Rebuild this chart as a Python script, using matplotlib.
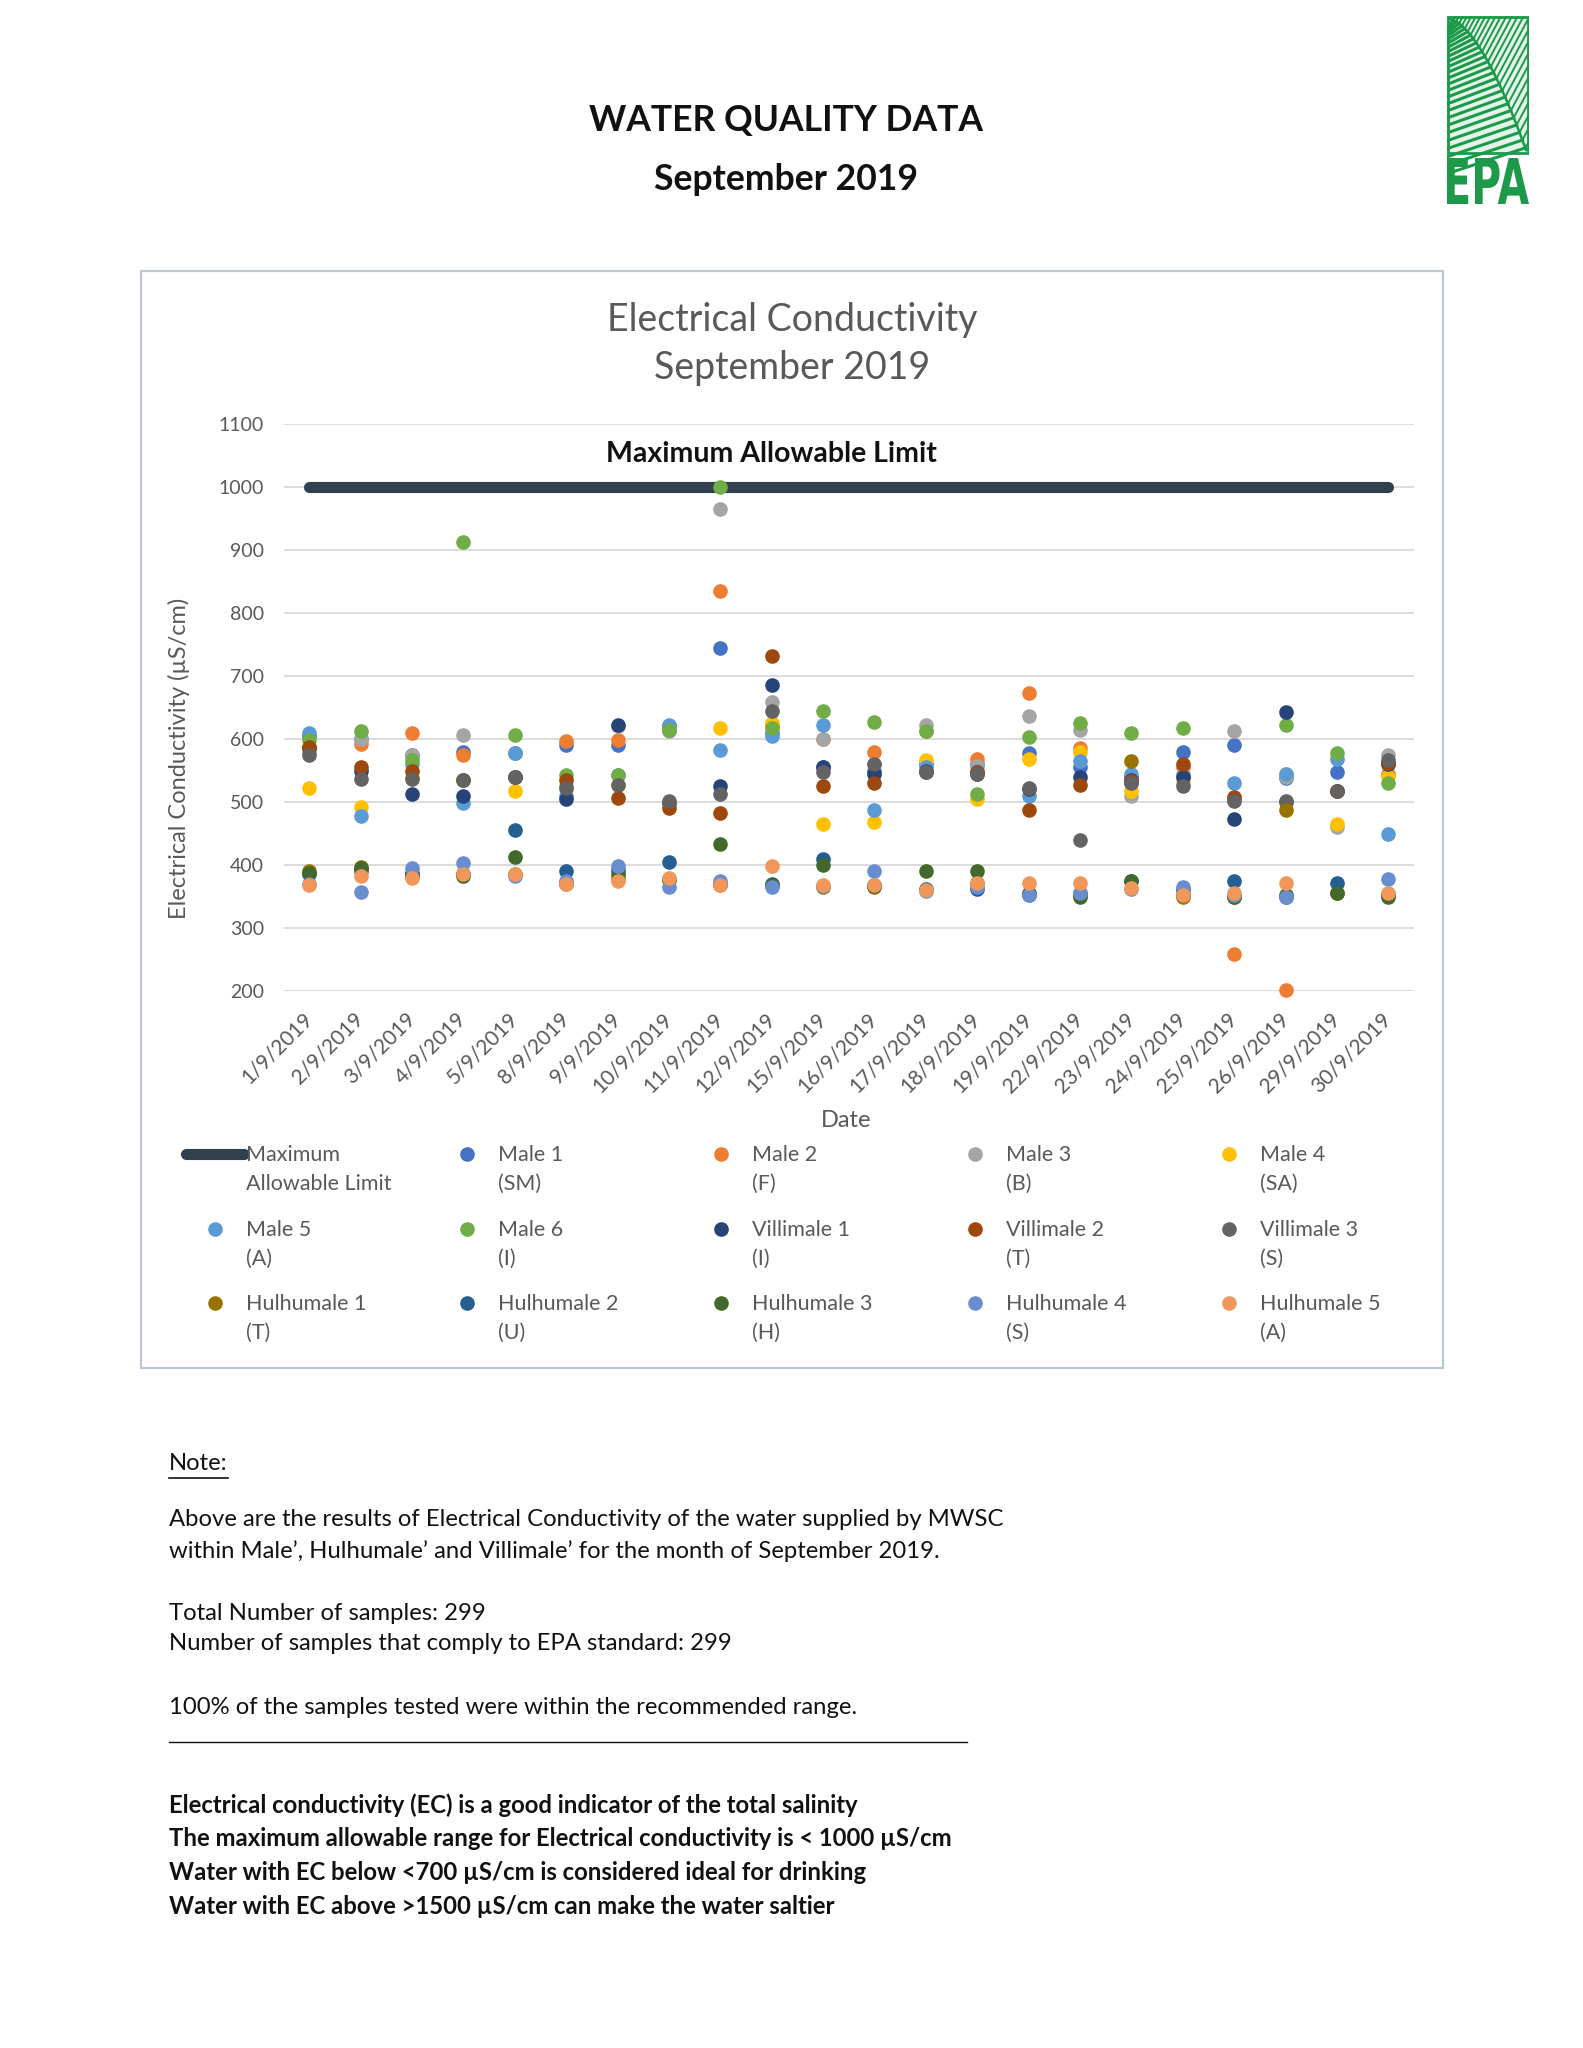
import numpy as np
import matplotlib
matplotlib.use("Agg")
from matplotlib import pyplot as plt
from matplotlib.patches import Rectangle, PathPatch
from matplotlib.textpath import TextPath
from matplotlib.font_manager import FontProperties
from matplotlib.transforms import Affine2D
from matplotlib.legend_handler import HandlerLine2D

plt.rcParams['font.family'] = ['Lato', 'DejaVu Sans']

# data
dates = ['1/9/2019', '2/9/2019', '3/9/2019', '4/9/2019', '5/9/2019', '8/9/2019',
         '9/9/2019', '10/9/2019', '11/9/2019', '12/9/2019', '15/9/2019', '16/9/2019',
         '17/9/2019', '18/9/2019', '19/9/2019', '22/9/2019', '23/9/2019', '24/9/2019',
         '25/9/2019', '26/9/2019', '29/9/2019', '30/9/2019']
nan = np.nan
limit = [1000] * 22
male1 = [605, 600, 575, 580, 578, 590, 590, 620, 745, 610, 555, 550, 560, 560, 577, 555, 540, 580, 590, 538, 547, 560]
male2 = [588, 592, 610, 575, 540, 597, 598, 615, 835, 620, 600, 580, 612, 568, 673, 585, 530, 555, 258, 202, 518, 545]
male3 = [580, 600, 575, 607, 578, 525, 620, 612, 965, 658, 600, 560, 622, 557, 637, 615, 510, 545, 612, 540, 460, 575]
male4 = [522, 492, 540, 535, 517, 520, 527, 500, 617, 625, 465, 468, 567, 505, 568, 580, 518, 530, 505, 545, 465, 540]
male5 = [610, 478, 560, 498, 578, 510, 543, 622, 582, 605, 622, 488, 556, 550, 510, 565, 545, 540, 530, 545, 568, 450]
male6 = [598, 612, 567, 912, 607, 543, 543, 615, 1000, 617, 645, 627, 612, 513, 603, 625, 610, 617, 505, 622, 578, 530]
vill1 = [585, 550, 512, 510, 540, 505, 622, 498, 525, 685, 555, 545, 550, 545, 520, 540, 535, 540, 473, 643, 518, 560]
vill2 = [588, 555, 550, 535, 540, 535, 507, 490, 483, 732, 525, 530, 548, 548, 488, 527, 533, 560, 508, 500, 518, 562]
vill3 = [575, 537, 537, 535, 540, 522, 527, 502, 512, 645, 548, 560, 548, 545, 523, 440, 530, 525, 502, 502, 517, 567]
hulh1 = [390, 397, 385, 385, 385, 370, 380, 378, 368, 368, 365, 365, 360, 372, 352, 352, 565, 350, 350, 488, 355, 352]
hulh2 = [385, 390, 388, 385, 455, 390, 392, 405, 370, 370, 410, 368, 362, 362, 355, 355, 375, 360, 375, 350, 372, 352]
hulh3 = [388, 395, 382, 383, 413, 372, 385, 376, 433, 368, 400, 367, 390, 390, 354, 350, 375, 352, 350, 352, 355, 350]
hulh4 = [370, 357, 395, 403, 383, 375, 398, 365, 375, 365, 367, 390, 358, 365, 352, 355, 362, 365, 352, 350, nan, 378]
hulh5 = [368, 382, 380, 385, 385, 370, 375, 380, 368, 398, 368, 368, 360, 372, 372, 372, 363, 352, 355, 372, nan, 355]

series = [male1, male2, male3, male4, male5, male6, vill1, vill2, vill3,
          hulh1, hulh2, hulh3, hulh4, hulh5]
names = ['Male 1\n(SM)', 'Male 2\n(F)', 'Male 3\n(B)', 'Male 4\n(SA)', 'Male 5\n(A)',
         'Male 6\n(I)', 'Villimale 1\n(I)', 'Villimale 2\n(T)', 'Villimale 3\n(S)',
         'Hulhumale 1\n(T)', 'Hulhumale 2\n(U)', 'Hulhumale 3\n(H)', 'Hulhumale 4\n(S)',
         'Hulhumale 5\n(A)']
colors = ['#4472C4', '#ED7D31', '#A5A5A5', '#FFC000', '#5B9BD5', '#70AD47', '#264478',
          '#9E480E', '#636363', '#997300', '#255E91', '#43682B', '#698ED0', '#F1975A']
yticks = [200, 300, 400, 500, 600, 700, 800, 900, 1000, 1100]

grey = '#595959'
W, H = 1583, 2048
fig = plt.figure(figsize=(W / 100, H / 100), dpi=100)


def px(x, y):
    return x / W, 1 - y / H


# page titles
fig.text(*px(786, 120), 'WATER QUALITY DATA', ha='center', va='center',
         fontsize=25.6, fontweight='bold', color='#111111')
fig.text(*px(786, 179), 'September 2019', ha='center', va='center',
         fontsize=25.6, fontweight='bold', color='#111111')

# chart frame
x0, y0 = px(141, 1368)
fig.patches.append(Rectangle((x0, y0), (1443 - 141) / W, (1368 - 271) / H,
                             transform=fig.transFigure, fill=False,
                             ec='#BDC7D5', lw=1.6))
fig.text(*px(792, 320), 'Electrical Conductivity', ha='center', va='center',
         fontsize=27, color=grey)
fig.text(*px(792, 368), 'September 2019', ha='center', va='center',
         fontsize=27, color=grey)

# plot area
ax = fig.add_axes([283.5 / W, 1 - 991 / H, (1414 - 283.5) / W, (991 - 424) / H])
x = np.arange(len(dates))
handles = []
ln, = ax.plot(x, limit, color='#323F4F', lw=8, solid_capstyle='round',
              zorder=2, label='Maximum\nAllowable Limit')
handles.append(ln)
for i, (vals, nm, c) in enumerate(zip(series, names, colors)):
    h, = ax.plot(x, vals, 'o', ms=9.5, color=c, zorder=3 + i, clip_on=False,
                 label=nm)
    handles.append(h)

ax.annotate('Maximum Allowable Limit', xy=(9, 1000), xytext=(0, 24),
            textcoords='offset points', ha='center', va='center',
            fontsize=20.5, fontweight='bold', color='#111111')

ax.set_xlim(-0.5, len(dates) - 0.5)
ax.set_ylim(200, 1100)
ax.set_yticks(yticks)
ax.set_xticks(x)
ax.set_xticklabels(dates, rotation=45, ha='right', va='center',
                   rotation_mode='anchor')
ax.tick_params(axis='x', length=0, pad=18, labelsize=15, labelcolor=grey)
ax.tick_params(axis='y', length=0, pad=14, labelsize=14, labelcolor=grey)
ax.grid(axis='y', color='#D9D9D9', lw=1.3)
ax.set_axisbelow(True)
for s in ax.spines.values():
    s.set_visible(False)
ax.set_ylabel('Electrical Conductivity (µS/cm)', fontsize=17, color=grey,
              va='center')
ax.yaxis.set_label_coords(-0.0924, 0.411)
ax.set_xlabel('Date', fontsize=17, color=grey, va='center')
ax.xaxis.set_label_coords(0.498, -0.229)


# legend: five columns, row-major order, marker beside the first line
class TopHandler(HandlerLine2D):
    def create_artists(self, legend, orig_handle, xdescent, ydescent, width,
                       height, fontsize, trans):
        arts = super().create_artists(legend, orig_handle, xdescent, ydescent,
                                      width, height, fontsize, trans)
        for a in arts:
            a.set_ydata([v + 0.74 * fontsize for v in a.get_ydata()])
        return arts


col_x = [186, 438, 692, 946, 1200]
for c in range(5):
    hs = [handles[r * 5 + c] for r in range(3)]
    leg = fig.legend(handles=hs, labels=[h.get_label() for h in hs],
                     loc='upper left', bbox_to_anchor=px(col_x[c], 1145),
                     frameon=False, fontsize=15.5, handlelength=2.7,
                     handletextpad=0.1, borderpad=0, borderaxespad=0,
                     labelspacing=1.2, labelcolor=grey,
                     handler_map={h: TopHandler() for h in hs})
    for t in leg.get_texts():
        t.set_linespacing(1.55)

# notes under the chart
fig.text(*px(169, 1464), 'Note:', ha='left', va='center', fontsize=17.2,
         color='#111111')
body = [
    (1520, 'Above are the results of Electrical Conductivity of the water supplied by MWSC', 'normal'),
    (1551, 'within Male\u2019, Hulhumale\u2019 and Villimale\u2019 for the month of September 2019.', 'normal'),
    (1614, 'Total Number of samples: 299', 'normal'),
    (1644, 'Number of samples that comply to EPA standard: 299', 'normal'),
    (1708, '100% of the samples tested were within the recommended range.', 'normal'),
    (1805, 'Electrical conductivity (EC) is a good indicator of the total salinity', 'bold'),
    (1838, 'The maximum allowable range for Electrical conductivity is < 1000 µS/cm', 'bold'),
    (1872, 'Water with EC below <700 µS/cm is considered ideal for drinking', 'bold'),
    (1906, 'Water with EC above >1500 µS/cm can make the water saltier', 'bold'),
]
for yy, txt, wt in body:
    fig.text(*px(169, yy), txt, ha='left', va='center', fontsize=17.2,
             fontweight=wt, color='#111111')
fig.add_artist(plt.Line2D([169 / W, 228 / W], [1 - 1478 / H] * 2,
                          transform=fig.transFigure, color='#111111', lw=1.2))
fig.add_artist(plt.Line2D([169 / W, 967 / W], [1 - 1742 / H] * 2,
                          transform=fig.transFigure, color='#111111', lw=1.0))

# EPA logo
green = '#1C9A4A'
lax = fig.add_axes([1447 / W, 1 - 206 / H, 82 / W, 190 / H])
lax.set_xlim(0, 82)
lax.set_ylim(190, 0)
lax.axis('off')
box = Rectangle((1, 1), 80, 136, fill=True, fc='#E4F3E9', ec=green, lw=2)
lax.add_patch(box)
t = np.linspace(0, 1, 60)
lax.plot(4 + 75 * t, 4 + 130 * t ** 1.6, color=green, lw=1.8, clip_path=box)
for k in np.linspace(0.03, 0.99, 26):
    bx = 4 + 75 * k
    by = 4 + 130 * k ** 1.6
    lax.plot([bx, 0], [by, by + 8 + 18 * k], color=green, lw=2.2, clip_path=box)
    lax.plot([bx, bx + 40], [by, by - 75], color=green, lw=1.4, clip_path=box)
fp = FontProperties(family=['Liberation Sans Narrow', 'DejaVu Sans'], weight='bold')
tp = TextPath((0, 0), 'EPA', size=1, prop=fp)
ext = tp.get_extents()
sx = 82 / ext.width
sy = 46 / ext.height
tr = Affine2D().translate(-ext.x0, -ext.y0).scale(sx, -sy).translate(0, 188)
lax.add_patch(PathPatch(tr.transform_path(tp), fc=green, ec='none'))

fig.savefig('out.png', dpi=100, facecolor='white')
